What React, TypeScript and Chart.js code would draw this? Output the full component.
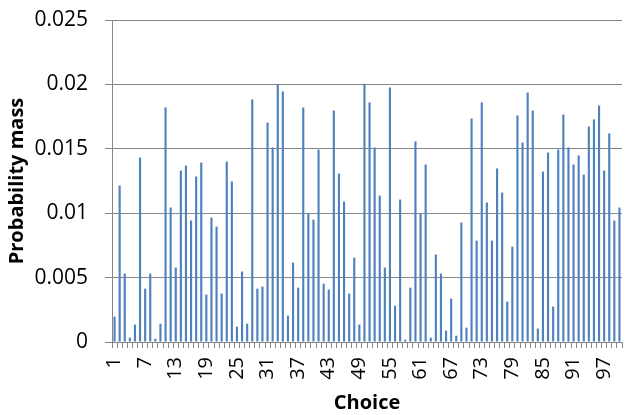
import React, { useEffect, useRef } from "react";
import { Chart, registerables } from "chart.js";

Chart.register(...registerables);

const categories: string[] = Array.from({ length: 100 }, (_, i) => String(i + 1));

const probabilityMass: number[] = [
  0.00197, 0.01215, 0.00531, 0.00034, 0.00135, 0.01432, 0.00414, 0.00531, 0.00026, 0.00142,
  0.01821, 0.01044, 0.00578, 0.01331, 0.0137, 0.00943, 0.01285, 0.01393, 0.00368, 0.00966,
  0.00896, 0.00376, 0.01401, 0.01246, 0.00119, 0.00547, 0.00142, 0.01883, 0.00414, 0.0043,
  0.01704, 0.0151, 0.02, 0.01945, 0.00205, 0.00616, 0.00422, 0.01821, 0.00997, 0.0095,
  0.01494, 0.00453, 0.00407, 0.01797, 0.01308, 0.0109, 0.00376, 0.00655, 0.00135, 0.02005,
  0.0186, 0.0151, 0.01137, 0.00578, 0.01976, 0.00282, 0.01106, 0.00018, 0.00422, 0.01557,
  0.00997, 0.01378, 0.00034, 0.00679, 0.00531, 0.00088, 0.00337, 0.00049, 0.00927, 0.00111,
  0.01735, 0.00787, 0.0186, 0.01083, 0.00787, 0.01347, 0.0116, 0.00313, 0.00741, 0.01759,
  0.01549, 0.01937, 0.01797, 0.00104, 0.01323, 0.01471, 0.00275, 0.01494, 0.01766, 0.0151,
  0.01378, 0.01448, 0.013, 0.01673, 0.01728, 0.01836, 0.01331, 0.01619, 0.00943, 0.01044,
];

const yTicks: number[] = [0, 0.005, 0.01, 0.015, 0.02, 0.025];

export default function App() {
  const ref = useRef<HTMLCanvasElement | null>(null);
  useEffect(() => {
    if (!ref.current) return;
    const font = "'Open Sans', 'Liberation Sans', sans-serif";
    const chart = new Chart(ref.current, {
      type: "bar",
      data: {
        labels: categories,
        datasets: [
          {
            data: probabilityMass,
            backgroundColor: "#4F81BD",
            categoryPercentage: 1,
            barPercentage: 0.42,
          },
        ],
      },
      options: {
        animation: false,
        responsive: false,
        layout: { padding: { top: 20, right: 7, left: 0, bottom: 0 } },
        plugins: { legend: { display: false }, tooltip: { enabled: false } },
        scales: {
          x: {
            offset: true,
            grid: {
              display: true,
              offset: true,
              drawOnChartArea: false,
              drawTicks: true,
              tickLength: 6,
              color: "#868686",
            },
            border: { color: "#868686", width: 1 },
            ticks: {
              autoSkip: false,
              minRotation: 90,
              maxRotation: 90,
              padding: 9,
              color: "#000",
              font: { family: font, size: 20 },
              callback: (_v: any, i: number) => (i % 6 === 0 ? categories[i] : ""),
            },
            title: {
              display: true,
              text: "Choice",
              color: "#000",
              font: { family: font, size: 20, weight: "bold" },
              padding: { top: 0, bottom: 0 },
            },
            afterFit: (s: any) => {
              s.height = 73;
              s.paddingLeft = 0;
              s.paddingRight = 0;
            },
          },
          y: {
            min: 0,
            max: 0.025,
            afterBuildTicks: (s: any) => {
              s.ticks = yTicks.map((v) => ({ value: v }));
            },
            grid: { color: "#868686", tickLength: 7 },
            border: { color: "#868686", width: 1 },
            ticks: {
              padding: 17,
              color: "#000",
              font: { family: font, size: 21 },
              callback: (v: any) => String(+Number(v).toFixed(3)),
            },
            title: {
              display: true,
              text: "Probability mass",
              color: "#000",
              font: { family: font, size: 20, weight: "bold" },
              padding: { top: 5, bottom: 0 },
            },
            afterFit: (s: any) => {
              s.width = 112;
              s.paddingTop = 0;
              s.paddingBottom = 0;
            },
          },
        },
      },
    });
    return () => chart.destroy();
  }, []);
  return (
    <div style={{ position: "absolute", left: 0, top: 0, width: 629, height: 415, background: "#fff" }}>
      <canvas ref={ref} width={629} height={415} />
    </div>
  );
}
